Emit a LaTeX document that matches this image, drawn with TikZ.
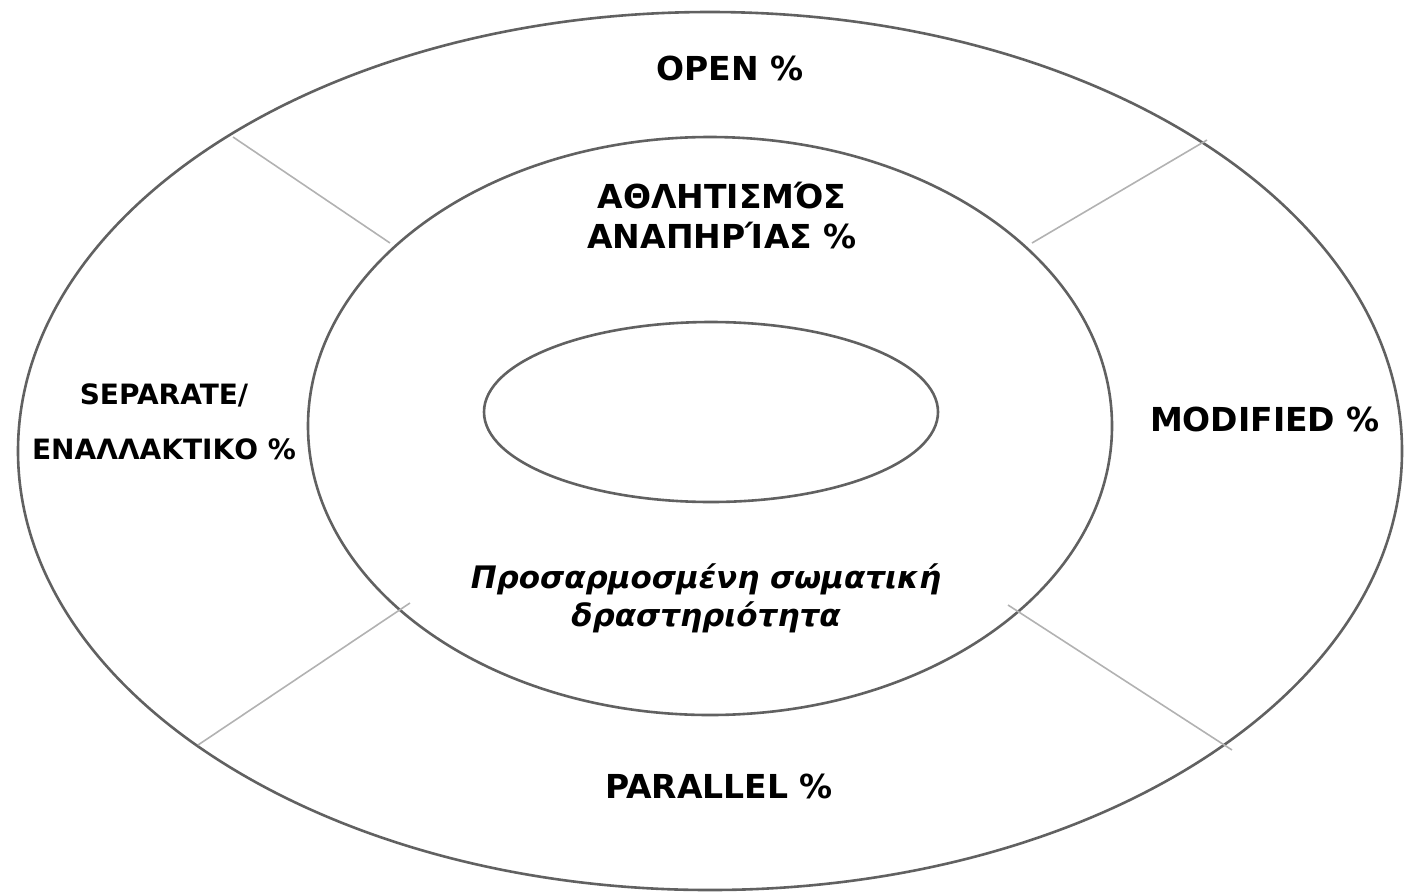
\documentclass[tikz,border=0pt]{standalone}
\usepackage{fontspec}
\newfontfamily\lblfont{DejaVu Sans}
\usepackage{tikz}

\begin{document}
\begin{tikzpicture}[x=1pt,y=-1pt,
        ring/.style={draw=black!62, line width=2.6pt},
        divider/.style={draw=black!30, line width=1.6pt},
        bigtext/.style={inner sep=0pt, align=center, font=\lblfont\bfseries\fontsize{33}{40}\selectfont},
        sidetext/.style={inner sep=0pt, align=center, font=\lblfont\bfseries\fontsize{28}{55}\selectfont},
        slanttext/.style={inner sep=0pt, align=center, font=\lblfont\bfseries\itshape\fontsize{31}{38}\selectfont}]
               \useasboundingbox (0,0) rectangle (1404,895);
               % the three rings
               \draw[ring] (710,451) ellipse [x radius=692, y radius=439];
               \draw[ring] (710,426) ellipse [x radius=402, y radius=289];
               \draw[ring] (711,412) ellipse [x radius=227, y radius=90];
               % ends of the dividers on the rings
               \coordinate (tl-out) at (233,137);
               \coordinate (tl-in) at (390,243);
               \coordinate (tr-out) at (1207,140);
               \coordinate (tr-in) at (1032,243);
               \coordinate (bl-out) at (198,745);
               \coordinate (bl-in) at (410,603);
               \coordinate (br-out) at (1232,750);
               \coordinate (br-in) at (1008,605);
               \draw[divider] (tl-out) -- (tl-in);
               \draw[divider] (tr-out) -- (tr-in);
               \draw[divider] (bl-out) -- (bl-in);
               \draw[divider] (br-out) -- (br-in);
               % labels
               \node[bigtext] (open) at (730,68) {OPEN \%};
               \node[bigtext] (disab) at (722,216) {ΑΘΛΗΤΙΣΜΌΣ\\ΑΝΑΠΗΡΊΑΣ \%};
               \node[sidetext] (separ) at (164,422) {SEPARATE/\\ΕΝΑΛΛΑΚΤΙΚΟ \%};
               \node[bigtext] (modif) at (1265,419) {MODIFIED \%};
               \node[slanttext] (adapt) at (706,598) {Προσαρμοσμένη σωματική\\δραστηριότητα};
               \node[bigtext] (paral) at (719,786) {PARALLEL \%};
           \end{tikzpicture}
\end{document}
